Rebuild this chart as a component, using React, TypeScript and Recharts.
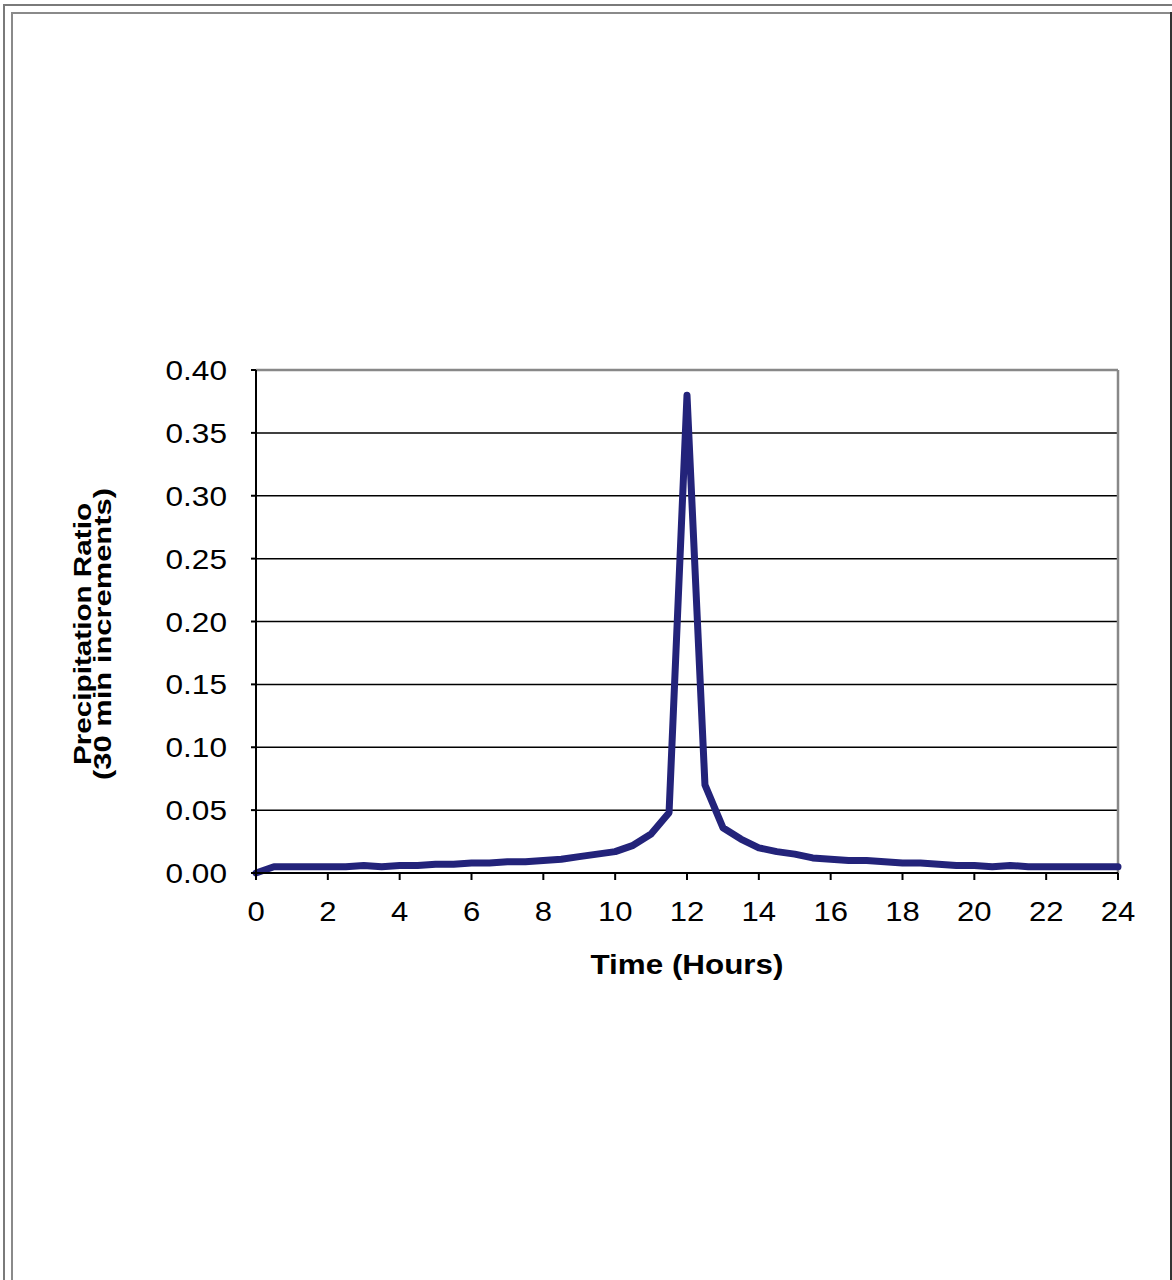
import React from "react";
import {
  LineChart,
  Line,
  XAxis,
  YAxis,
  CartesianGrid,
  ReferenceLine,
} from "recharts";

// time in hours, 30 min steps
const hours = [
  0, 0.5, 1, 1.5, 2, 2.5, 3, 3.5, 4, 4.5, 5, 5.5, 6, 6.5, 7, 7.5, 8, 8.5, 9,
  9.5, 10, 10.5, 11, 11.5, 12, 12.5, 13, 13.5, 14, 14.5, 15, 15.5, 16, 16.5,
  17, 17.5, 18, 18.5, 19, 19.5, 20, 20.5, 21, 21.5, 22, 22.5, 23, 23.5, 24,
];

const ratio = [
  0.0, 0.005, 0.005, 0.005, 0.005, 0.005, 0.006, 0.005, 0.006, 0.006, 0.007,
  0.007, 0.008, 0.008, 0.009, 0.009, 0.01, 0.011, 0.013, 0.015, 0.017, 0.022,
  0.031, 0.048, 0.38, 0.07, 0.036, 0.027, 0.02, 0.017, 0.015, 0.012, 0.011,
  0.01, 0.01, 0.009, 0.008, 0.008, 0.007, 0.006, 0.006, 0.005, 0.006, 0.005,
  0.005, 0.005, 0.005, 0.005, 0.005,
];

const xTicks = [0, 2, 4, 6, 8, 10, 12, 14, 16, 18, 20, 22, 24];
const yTicks = [0, 0.05, 0.1, 0.15, 0.2, 0.25, 0.3, 0.35, 0.4];

const xTitle = "Time (Hours)";
const yTitle = ["Precipitation Ratio", "(30 min increments)"];

const FONT = '"Liberation Sans", Arial, sans-serif';
const LINE = "#23237a";

const data = hours.map((t, i) => ({ t, v: ratio[i] }));

// the source image is a bit stretched sideways, so labels get scaleX
function XTick(props: any) {
  const { x, y, payload } = props;
  return (
    <text
      transform={`translate(${x},${y + 41}) scale(1.15,1)`}
      textAnchor="middle"
      fontSize={27}
      fontFamily={FONT}
      fill="#000"
    >
      {payload.value}
    </text>
  );
}

function YTick(props: any) {
  const { x, y, payload } = props;
  return (
    <text
      transform={`translate(${x},${y + 10}) scale(1.17,1)`}
      textAnchor="end"
      fontSize={27}
      fontFamily={FONT}
      fill="#000"
    >
      {Number(payload.value).toFixed(2)}
    </text>
  );
}

function YTitle() {
  return (
    <g fontFamily={FONT} fontWeight="bold" fontSize={24} fill="#000">
      <text
        transform="translate(91,634) rotate(-90)"
        textAnchor="middle"
        textLength={262}
        lengthAdjust="spacingAndGlyphs"
      >
        {yTitle[0]}
      </text>
      <text
        transform="translate(111,634) rotate(-90)"
        textAnchor="middle"
        textLength={292}
        lengthAdjust="spacingAndGlyphs"
      >
        {yTitle[1]}
      </text>
    </g>
  );
}

function XTitle() {
  return (
    <text
      x={687}
      y={974}
      textAnchor="middle"
      fontFamily={FONT}
      fontWeight="bold"
      fontSize={27}
      textLength={193}
      lengthAdjust="spacingAndGlyphs"
      fill="#000"
    >
      {xTitle}
    </text>
  );
}

export default function App() {
  return (
    <div
      style={{
        position: "absolute",
        left: 0,
        top: 0,
        width: 1172,
        height: 1280,
        background: "#fff",
        overflow: "hidden",
      }}
    >
      {/* page frame lines */}
      <div style={{ position: "absolute", left: 3, top: 4, right: 0, height: 2, background: "#7a7a7a" }} />
      <div style={{ position: "absolute", left: 3, top: 4, bottom: 0, width: 2, background: "#7a7a7a" }} />
      <div style={{ position: "absolute", left: 11, top: 12, right: 1, height: 2, background: "#8a8a8a" }} />
      <div style={{ position: "absolute", left: 11, top: 12, bottom: 0, width: 2, background: "#8a8a8a" }} />
      <div style={{ position: "absolute", right: 0, top: 12, bottom: 0, width: 2, background: "#333" }} />

      <div style={{ position: "absolute", left: 0, top: 0 }}>
        <LineChart
          width={1172}
          height={1280}
          data={data}
          margin={{ top: 370, right: 54, bottom: 347, left: 156 }}
        >
          <CartesianGrid vertical={false} stroke="#000" strokeWidth={1.5} />
          <ReferenceLine y={0.4} stroke="#888" strokeWidth={2.5} />
          <ReferenceLine x={24} stroke="#888" strokeWidth={2.5} />
          <XAxis
            dataKey="t"
            type="number"
            domain={[0, 24]}
            ticks={xTicks}
            height={60}
            tickSize={7}
            tickMargin={0}
            stroke="#000"
            strokeWidth={2}
            tickLine={{ stroke: "#000", strokeWidth: 2 }}
            tick={<XTick />}
            interval={0}
          />
          <YAxis
            type="number"
            domain={[0, 0.4]}
            ticks={yTicks}
            width={100}
            tickSize={5}
            tickMargin={24}
            stroke="#000"
            strokeWidth={2}
            tickLine={{ stroke: "#000", strokeWidth: 2 }}
            tick={<YTick />}
            interval={0}
          />
          <Line
            dataKey="v"
            type="linear"
            stroke={LINE}
            strokeWidth={7}
            strokeLinejoin="round"
            strokeLinecap="round"
            dot={false}
            activeDot={false}
            isAnimationActive={false}
          />
          <XTitle />
          <YTitle />
        </LineChart>
      </div>
    </div>
  );
}
